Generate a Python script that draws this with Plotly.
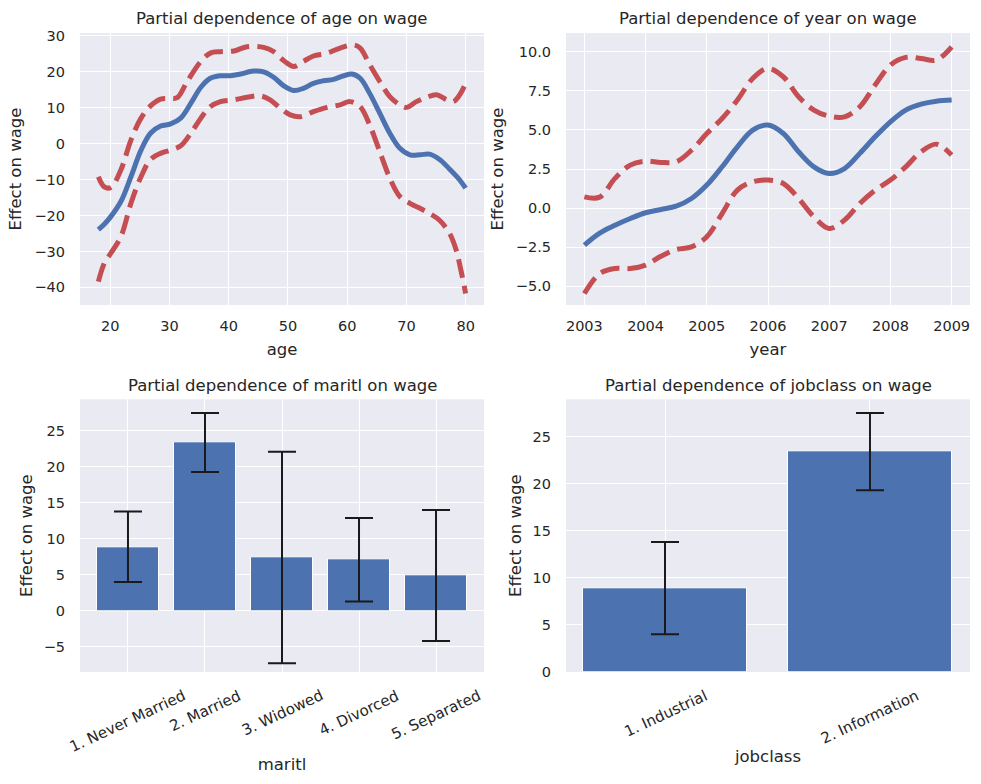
import plotly.graph_objects as go

# ---------------- data ----------------
age = [18, 19.0, 20.1, 21.8, 23.5, 25.2, 26.8, 28.5, 30.2, 31.9, 33.6, 35.3, 36.9, 38.6, 40.3, 42.0,
       44.2, 45.9, 47.6, 49.3, 51.0, 52.6, 54.3, 56.0, 57.7, 59.4, 60.8, 62.2, 63.8, 65.5, 67.2,
       68.9, 70.6, 72.3, 73.9, 75.6, 77.3, 79.0, 80]
age_mean = [-23.9, -22.4, -20.3, -16.1, -9.2, -1.8, 2.9, 4.9, 5.5, 7.1, 11.2, 15.7, 18.2, 18.9, 18.9, 19.4,
            20.2, 20.0, 18.5, 16.1, 14.8, 15.4, 16.8, 17.5, 17.9, 18.9, 19.4, 18.2, 14.0, 8.5, 2.9,
            -1.3, -3.1, -3.1, -2.9, -4.4, -7.1, -10.1, -12.4]

age_up_x = [18, 19.0, 20.1, 21.8, 23.5, 25.2, 26.8, 28.5, 30.2, 31.3, 33.0, 35.3, 36.9, 38.6, 40.9, 43.1,
            45.9, 47.6, 49.3, 51.0, 52.6, 54.3, 56.6, 58.8, 61.0, 62.2, 63.8, 65.5, 67.2, 68.9, 70.0,
            71.7, 73.4, 75.1, 76.8, 77.9, 79.0, 80]
age_upper = [-9.2, -12.0, -12.2, -7.3, 1.0, 7.1, 10.5, 12.4, 12.6, 12.8, 17.3, 22.9, 25.2, 25.6, 25.8, 27.0,
             26.8, 25.6, 23.1, 21.5, 22.9, 24.4, 25.2, 26.6, 27.5, 26.6, 22.0, 17.3, 13.1, 10.8, 10.1,
             11.7, 12.9, 13.6, 12.2, 11.7, 13.6, 16.8]

age_lo_x = [18, 19.0, 20.1, 21.8, 23.5, 25.2, 26.8, 28.5, 30.2, 31.9, 33.6, 35.3, 36.9, 38.6, 40.9, 43.1,
            45.3, 47.0, 48.7, 50.4, 52.1, 54.3, 56.6, 58.8, 60.5, 62.2, 63.8, 65.5, 67.2, 68.9, 70.6,
            72.3, 73.9, 75.6, 77.3, 78.4, 79.2, 80]
age_lower = [-38.4, -33.3, -30.5, -25.9, -16.6, -9.2, -4.4, -2.7, -1.8, -0.6, 2.9, 7.1, 10.3, 11.7, 12.2, 12.9,
             13.3, 12.2, 9.9, 8.0, 7.5, 8.9, 10.1, 10.8, 11.7, 10.3, 5.2, -2.2, -9.6, -14.7, -16.6,
             -18.0, -19.4, -21.3, -25.0, -29.6, -35.2, -41.7]

year = [2003, 2003.25, 2003.5, 2003.75, 2004, 2004.25, 2004.5, 2004.75, 2005, 2005.25, 2005.5, 2005.75,
        2006, 2006.25, 2006.5, 2006.75, 2007, 2007.25, 2007.5, 2007.75, 2008, 2008.25, 2008.5, 2008.75, 2009]
year_mean = [-2.37, -1.6, -1.1, -0.67, -0.3, -0.09, 0.12, 0.61, 1.47, 2.64, 3.92, 4.99,
             5.31, 4.77, 3.6, 2.64, 2.21, 2.53, 3.5, 4.56, 5.52, 6.27, 6.65, 6.84, 6.91]
year_upper = [0.72, 0.7, 1.9, 2.75, 3.0, 2.92, 2.96, 3.7, 4.77, 5.73, 6.91, 8.29,
              8.93, 8.4, 7.12, 6.27, 5.88, 5.84, 6.48, 7.87, 9.15, 9.64, 9.57, 9.47, 10.32]
year_lower = [-5.47, -4.19, -3.87, -3.87, -3.65, -3.08, -2.65, -2.48, -1.84, -0.35, 1.15, 1.68,
              1.79, 1.57, 0.61, -0.56, -1.31, -0.77, 0.29, 1.15, 1.79, 2.64, 3.6, 4.09, 3.39]

maritl_labels = ["1. Never Married", "2. Married", "3. Widowed", "4. Divorced", "5. Separated"]
maritl_effect = [8.9, 23.4, 7.4, 7.1, 4.9]
maritl_err = [4.9, 4.1, 14.7, 5.8, 9.1]

jobclass_labels = ["1. Industrial", "2. Information"]
jobclass_effect = [8.9, 23.4]
jobclass_err = [4.9, 4.1]

titles = ["Partial dependence of age on wage", "Partial dependence of year on wage",
          "Partial dependence of maritl on wage", "Partial dependence of jobclass on wage"]

# ---------------- style ----------------
BLUE = "#4C72B0"
RED = "#C44E52"
BG = "#EAEAF2"
TXT = "#262626"
FONT = "DejaVu Sans"
W, H = 981, 784

def px_x(p):
    return p / W

def px_y(p):
    return 1 - p / H

dom_left = [px_x(80), px_x(484)]
dom_right = [px_x(566), px_x(970)]
dom_top = [px_y(305), px_y(33)]
dom_bot = [px_y(672), px_y(399.3)]

fig = go.Figure()

line_w = 5
dash = "19px,8px"

fig.add_trace(go.Scatter(x=age, y=age_mean, mode="lines", line=dict(color=BLUE, width=line_w, shape="spline"),
                         xaxis="x", yaxis="y", showlegend=False))
fig.add_trace(go.Scatter(x=age_up_x, y=age_upper, mode="lines",
                         line=dict(color=RED, width=line_w, dash=dash, shape="spline"),
                         xaxis="x", yaxis="y", showlegend=False))
fig.add_trace(go.Scatter(x=age_lo_x, y=age_lower, mode="lines",
                         line=dict(color=RED, width=line_w, dash=dash, shape="spline"),
                         xaxis="x", yaxis="y", showlegend=False))

fig.add_trace(go.Scatter(x=year, y=year_mean, mode="lines", line=dict(color=BLUE, width=line_w, shape="spline"),
                         xaxis="x2", yaxis="y2", showlegend=False))
fig.add_trace(go.Scatter(x=year, y=year_upper, mode="lines",
                         line=dict(color=RED, width=line_w, dash=dash, shape="spline"),
                         xaxis="x2", yaxis="y2", showlegend=False))
fig.add_trace(go.Scatter(x=year, y=year_lower, mode="lines",
                         line=dict(color=RED, width=line_w, dash=dash, shape="spline"),
                         xaxis="x2", yaxis="y2", showlegend=False))

err_style = dict(type="data", visible=True, color="#1a1a1a", thickness=2, width=14)

fig.add_trace(go.Bar(x=list(range(len(maritl_labels))), y=maritl_effect, width=0.8,
                     marker=dict(color=BLUE, line=dict(color="white", width=1)),
                     error_y=dict(array=maritl_err, **err_style),
                     xaxis="x3", yaxis="y3", showlegend=False,
                     hovertext=maritl_labels))
fig.add_trace(go.Bar(x=list(range(len(jobclass_labels))), y=jobclass_effect, width=0.8,
                     marker=dict(color=BLUE, line=dict(color="white", width=1)),
                     error_y=dict(array=jobclass_err, **err_style),
                     xaxis="x4", yaxis="y4", showlegend=False,
                     hovertext=jobclass_labels))

tickfont = dict(family=FONT, size=14.5, color=TXT)
rotfont = dict(family=FONT, size=15, color=TXT)
labfont = dict(family=FONT, size=16.5, color=TXT)

ax_common = dict(showgrid=True, gridcolor="white", gridwidth=1.3, zeroline=False, automargin=False,
                 showline=False, ticks="", tickfont=tickfont, title_font=labfont)

fig.update_layout(
    width=W, height=H,
    margin=dict(l=0, r=0, t=0, b=0),
    paper_bgcolor="white", plot_bgcolor=BG,
    font=dict(family=FONT, color=TXT),
    bargap=0,
    xaxis=dict(domain=dom_left, anchor="y", range=[14.9, 83.1], tickvals=[20, 30, 40, 50, 60, 70, 80],
               title=dict(text="age", standoff=10), ticklabelstandoff=10, **ax_common),
    yaxis=dict(domain=dom_top, anchor="x", range=[-44.9, 30.8], tickvals=[-40, -30, -20, -10, 0, 10, 20, 30],
               title=dict(text="Effect on wage", standoff=8), ticklabelstandoff=14, **ax_common),
    xaxis2=dict(domain=dom_right, anchor="y2", range=[2002.7, 2009.3],
                tickvals=[2003, 2004, 2005, 2006, 2007, 2008, 2009],
                title=dict(text="year", standoff=10), ticklabelstandoff=10, **ax_common),
    yaxis2=dict(domain=dom_top, anchor="x2", range=[-6.2, 11.2],
                tickvals=[-5, -2.5, 0, 2.5, 5, 7.5, 10], tickformat=".1f",
                title=dict(text="Effect on wage", standoff=8), ticklabelstandoff=14, **ax_common),
    xaxis3=dict(domain=dom_left, anchor="y3", range=[-0.623, 4.623], tickvals=list(range(5)),
                showticklabels=False, title=dict(text="maritl", standoff=86), **ax_common),
    yaxis3=dict(domain=dom_bot, anchor="x3", range=[-8.5, 29.4], tickvals=[-5, 0, 5, 10, 15, 20, 25],
                title=dict(text="Effect on wage", standoff=6), ticklabelstandoff=14, **ax_common),
    xaxis4=dict(domain=dom_right, anchor="y4", range=[-0.483, 1.488], tickvals=[0, 1],
                showticklabels=False, title=dict(text="jobclass", standoff=78), **ax_common),
    yaxis4=dict(domain=dom_bot, anchor="x4", range=[0, 28.96], tickvals=[0, 5, 10, 15, 20, 25],
                title=dict(text="Effect on wage", standoff=6), ticklabelstandoff=14, **ax_common),
)

annotations = []
# subplot titles
for i, t in enumerate(titles):
    xc = (dom_left[0] + dom_left[1]) / 2 if i % 2 == 0 else (dom_right[0] + dom_right[1]) / 2
    yc = px_y(18.5) if i < 2 else px_y(385)
    annotations.append(dict(text=t, x=xc, y=yc, xref="paper", yref="paper", xanchor="center",
                            yanchor="middle", showarrow=False, font=labfont))
# rotated category labels
for i, lab in enumerate(maritl_labels):
    annotations.append(dict(text=lab, x=i, y=0, xref="x3", yref="y3 domain", xanchor="center",
                            yanchor="top", yshift=-12, textangle=-25, showarrow=False, font=rotfont))
for i, lab in enumerate(jobclass_labels):
    annotations.append(dict(text=lab, x=i, y=0, xref="x4", yref="y4 domain", xanchor="center",
                            yanchor="top", yshift=-12, textangle=-25, showarrow=False, font=rotfont))
fig.update_layout(annotations=annotations)

fig.write_html("out.html")
